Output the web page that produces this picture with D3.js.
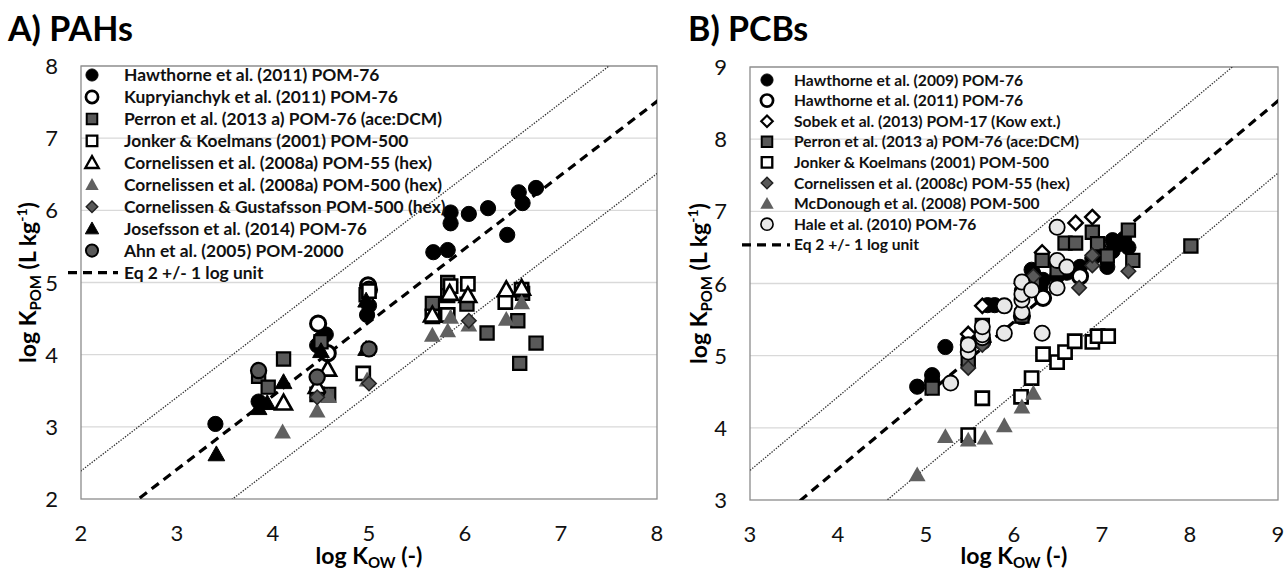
<!DOCTYPE html>
<html>
<head>
<meta charset="utf-8">
<script src="https://cdn.jsdelivr.net/npm/d3@7"></script>
<style>
  body { margin: 0; background: #fff; }
  svg text { font-family: Lato, "Open Sans", sans-serif; }
</style>
</head>
<body>
<svg id="chart" width="1286" height="573"></svg>
<script>
// ---- data: [log Kow, log Kpom] ----
// panel A, PAHs
const hawthorne11A = [[3.40,3.04],[3.85,3.35],[4.46,4.13],[4.50,4.22],[4.55,4.28],[4.98,4.55],[5.00,4.68],[5.67,5.42],[5.82,5.45],[5.85,5.82],[5.85,5.97],[6.04,5.95],[6.24,6.03],[6.44,5.66],[6.56,6.25],[6.60,6.10],[6.74,6.31]];
const kupryA = [[4.47,4.43],[4.57,4.02],[4.99,4.96],[5.00,4.90]];
const perronA = [[3.85,3.70],[3.95,3.55],[4.11,3.94],[4.50,4.18],[4.58,3.45],[4.97,4.83],[5.66,4.71],[5.82,4.82],[5.82,5.00],[6.02,4.70],[6.23,4.30],[6.55,4.47],[6.57,3.88],[6.74,4.16],[6.60,4.85]];
const jonkerA = [[4.46,3.45],[4.94,3.74],[5.00,4.88],[5.66,4.53],[5.82,4.55],[5.85,4.95],[6.03,4.98],[6.42,4.73],[6.59,4.90]];
const corn55A = [[4.11,3.33],[4.46,3.56],[4.57,3.80],[5.66,4.55],[5.84,4.85],[6.03,4.82],[6.43,4.90],[6.59,4.92]];
const corn500A = [[4.10,2.93],[4.46,3.22],[4.58,3.42],[4.98,3.65],[5.66,4.27],[5.82,4.33],[5.85,4.52],[6.04,4.41],[6.43,4.49],[6.59,4.72]];
const cornGusA = [[4.46,3.41],[5.00,3.60],[6.04,4.47]];
const josefA = [[3.41,2.62],[3.85,3.26],[3.94,3.33],[4.11,3.62],[4.50,4.05],[4.97,4.08],[4.97,4.75]];
const ahnA = [[3.85,3.78],[4.46,3.69],[5.00,4.08]];

// panel B, PCBs
const hawthorne09B = [[4.90,4.57],[5.07,4.73],[5.07,4.65],[5.22,5.12],[5.48,5.20],[5.48,5.10],[5.64,5.35],[5.70,5.70],[5.78,5.70],[6.09,5.90],[6.20,6.19],[6.22,6.14],[6.30,5.95],[6.33,6.05],[6.49,6.10],[6.60,6.15],[6.75,6.23],[6.89,6.35],[6.95,6.40],[7.06,6.23],[7.12,6.45],[7.12,6.60],[7.20,6.55],[7.25,6.62],[7.30,6.50]];
const hawthorne11B = [[5.64,5.20],[6.09,5.55],[6.33,5.80],[6.75,6.10]];
const sobekB = [[5.48,5.30],[5.64,5.69],[6.09,6.00],[6.32,6.43],[6.70,6.84],[6.89,6.92]];
const perronB = [[5.07,4.55],[5.48,4.94],[5.64,5.42],[6.09,5.55],[6.22,6.05],[6.32,6.32],[6.49,6.19],[6.58,6.56],[6.70,6.56],[6.89,6.71],[6.95,6.55],[7.06,6.38],[7.30,6.74],[7.35,6.32],[8.01,6.52]];
const jonkerB = [[5.48,3.90],[5.64,4.41],[6.08,4.43],[6.20,4.69],[6.33,5.02],[6.49,4.91],[6.58,5.05],[6.69,5.20],[6.89,5.19],[6.95,5.27],[7.07,5.27]];
const cornB = [[5.48,4.83],[5.64,5.15],[6.22,6.10],[6.74,5.94],[6.89,6.25],[6.89,6.39],[7.30,6.17]];
const mcdB = [[4.90,3.35],[5.22,3.88],[5.48,3.83],[5.67,3.86],[5.89,4.03],[6.09,4.29],[6.22,4.48]];
const haleB = [[5.28,4.62],[5.48,5.05],[5.48,5.15],[5.64,5.25],[5.64,5.29],[5.64,5.40],[5.89,5.31],[5.89,5.69],[6.09,5.60],[6.09,5.77],[6.09,5.85],[6.09,6.02],[6.20,5.91],[6.32,5.31],[6.49,5.94],[6.49,6.32],[6.60,6.23],[6.49,6.78]];

// Eq 2 line: log Kpom = slope * log Kow + intercept, +/- 1 log unit
const eqSlope = 1.02, eqIntercept = -0.65;
const ticksA = [2, 3, 4, 5, 6, 7, 8];
const ticksB = [3, 4, 5, 6, 7, 8, 9];

// marker styles
const S = {
  blackCircle: {shape: "circle", fill: "#000", stroke: "#000", sw: 1},
  openCircle: {shape: "circle", fill: "#fff", stroke: "#000", sw: 3},
  graySquare: {shape: "square", fill: "#595959", stroke: "#000", sw: 2.2},
  openSquare: {shape: "square", fill: "#fff", stroke: "#000", sw: 2.6},
  openTri: {shape: "triangle", fill: "#fff", stroke: "#000", sw: 2.6},
  grayTri: {shape: "triangle", fill: "#606060", stroke: "none", sw: 0},
  grayDiamond: {shape: "diamond", fill: "#595959", stroke: "#222", sw: 1.6},
  blackTri: {shape: "triangle", fill: "#000", stroke: "#000", sw: 1},
  grayCircle: {shape: "circle", fill: "#595959", stroke: "#000", sw: 2.2},
  openDiamond: {shape: "diamond", fill: "#fff", stroke: "#000", sw: 2.4},
  lightCircle: {shape: "circle", fill: "#e8e8e8", stroke: "#000", sw: 1.8}
};

const seriesA = [
  {name: "Hawthorne et al. (2011) POM-76", data: hawthorne11A, st: S.blackCircle},
  {name: "Kupryianchyk et al. (2011) POM-76", data: kupryA, st: S.openCircle},
  {name: "Perron et al. (2013 a) POM-76 (ace:DCM)", data: perronA, st: S.graySquare},
  {name: "Jonker & Koelmans (2001) POM-500", data: jonkerA, st: S.openSquare},
  {name: "Cornelissen et al. (2008a) POM-55 (hex)", data: corn55A, st: S.openTri},
  {name: "Cornelissen et al. (2008a) POM-500 (hex)", data: corn500A, st: S.grayTri},
  {name: "Cornelissen & Gustafsson POM-500 (hex)", data: cornGusA, st: S.grayDiamond},
  {name: "Josefsson et al. (2014) POM-76", data: josefA, st: S.blackTri},
  {name: "Ahn et al. (2005) POM-2000", data: ahnA, st: S.grayCircle}
];
const seriesB = [
  {name: "Hawthorne et al. (2009) POM-76", data: hawthorne09B, st: S.blackCircle},
  {name: "Hawthorne et al. (2011) POM-76", data: hawthorne11B, st: S.openCircle},
  {name: "Sobek et al. (2013) POM-17 (Kow ext.)", data: sobekB, st: S.openDiamond},
  {name: "Perron et al. (2013 a) POM-76 (ace:DCM)", data: perronB, st: S.graySquare},
  {name: "Jonker & Koelmans (2001) POM-500", data: jonkerB, st: S.openSquare},
  {name: "Cornelissen et al. (2008c) POM-55 (hex)", data: cornB, st: S.grayDiamond},
  {name: "McDonough et al. (2008) POM-500", data: mcdB, st: S.grayTri},
  {name: "Hale et al. (2010) POM-76", data: haleB, st: S.lightCircle}
];

const svg = d3.select("#chart");

// path for a marker of half-size h centred on 0,0
function markerPath(shape, h) {
  if (shape === "circle") return d3.symbol(d3.symbolCircle, Math.PI * h * h)();
  if (shape === "square") return `M${-h},${-h}H${h}V${h}H${-h}Z`;
  if (shape === "diamond") return `M0,${-h}L${h},0L0,${h}L${-h},0Z`;
  // triangle
  const t = h * 1.1;
  return `M0,${-t}L${t},${t * 0.78}L${-t},${t * 0.78}Z`;
}
const sizeFor = {circle: 7.6, square: 6.6, diamond: 7.2, triangle: 7.6};

function drawMarker(g, x, y, st, scale) {
  g.append("path")
    .attr("d", markerPath(st.shape, sizeFor[st.shape] * scale))
    .attr("transform", `translate(${x},${y})`)
    .attr("fill", st.fill)
    .attr("stroke", st.stroke)
    .attr("stroke-width", st.sw * (scale < 1 ? 0.9 : 1));
}

function panel(opt) {
  const x = d3.scaleLinear().domain(opt.domain).range([opt.left, opt.right]);
  const y = d3.scaleLinear().domain(opt.domain).range([opt.bottom, opt.top]);
  const g = svg.append("g");

  // grid
  g.selectAll(".grid").data(opt.ticks.slice(1)).enter().append("line")
    .attr("x1", opt.left).attr("x2", opt.right)
    .attr("y1", d => y(d)).attr("y2", d => y(d))
    .attr("stroke", "#d9d9d9").attr("stroke-width", 1.3);

  // frame
  g.append("rect")
    .attr("x", opt.left).attr("y", opt.top)
    .attr("width", opt.right - opt.left).attr("height", opt.bottom - opt.top)
    .attr("fill", "none").attr("stroke", "#8c8c8c").attr("stroke-width", 1.3);

  // tick labels
  g.selectAll(".yt").data(opt.ticks).enter().append("text")
    .attr("x", opt.left - 23).attr("y", d => y(d) + 8)
    .attr("text-anchor", "end").attr("font-size", 22).attr("fill", "#111")
    .text(d => d);
  g.selectAll(".xt").data(opt.ticks).enter().append("text")
    .attr("x", d => x(d)).attr("y", opt.bottom + 42)
    .attr("text-anchor", "middle").attr("font-size", 22).attr("fill", "#111")
    .text(d => d);

  // axis titles
  const xt = g.append("text")
    .attr("x", (opt.left + opt.right) / 2).attr("y", 564)
    .attr("text-anchor", "middle").attr("font-size", 23).attr("font-weight", "bold");
  xt.append("tspan").text("log K");
  xt.append("tspan").attr("font-size", 15).attr("dy", 4).text("OW");
  xt.append("tspan").attr("dy", -4).text(" (-)");

  const yt = g.append("text")
    .attr("transform", `translate(${opt.ytX},${(opt.top + opt.bottom) / 2}) rotate(-90)`)
    .attr("text-anchor", "middle").attr("font-size", 23).attr("font-weight", "bold");
  yt.append("tspan").text("log K");
  yt.append("tspan").attr("font-size", 15).attr("dy", 5).text("POM");
  yt.append("tspan").attr("dy", -5).text(" (L kg");
  yt.append("tspan").attr("font-size", 14).attr("dy", -9).text("-1");
  yt.append("tspan").attr("dy", 9).text(")");

  // panel title
  svg.append("text").attr("x", opt.titleX).attr("y", 41)
    .attr("font-size", 34).attr("font-weight", "bold").text(opt.title);

  // Eq 2 lines, clipped to plot
  const clipId = "clip-" + opt.id;
  svg.append("clipPath").attr("id", clipId).append("rect")
    .attr("x", opt.left).attr("y", opt.top)
    .attr("width", opt.right - opt.left).attr("height", opt.bottom - opt.top);
  const lg = g.append("g").attr("clip-path", `url(#${clipId})`);
  const d0 = opt.domain[0] - 1, d1 = opt.domain[1] + 1;
  [-1, 0, 1].forEach(off => {
    lg.append("line")
      .attr("x1", x(d0)).attr("y1", y(eqSlope * d0 + eqIntercept + off))
      .attr("x2", x(d1)).attr("y2", y(eqSlope * d1 + eqIntercept + off))
      .attr("stroke", off === 0 ? "#000" : "#333")
      .attr("stroke-width", off === 0 ? 3.2 : 1.3)
      .attr("stroke-dasharray", off === 0 ? "9,6" : "1.4,1.4");
  });

  // points
  const pg = g.append("g");
  opt.series.forEach(s => {
    s.data.forEach(p => drawMarker(pg, x(p[0]), y(p[1]), s.st, 1));
  });

  // legend
  const leg = g.append("g");
  opt.series.forEach((s, i) => {
    const ly = opt.legY + i * opt.legStep;
    drawMarker(leg, opt.legMX, ly, s.st, 0.8);
    leg.append("text").attr("x", opt.legTX).attr("y", ly + opt.legFont * 0.36)
      .attr("font-size", opt.legFont).attr("font-weight", "bold").attr("fill", "#111")
      .text(s.name);
  });
  const dy = opt.legY + opt.series.length * opt.legStep;
  leg.append("line").attr("x1", opt.legD0).attr("x2", opt.legD1)
    .attr("y1", dy).attr("y2", dy)
    .attr("stroke", "#000").attr("stroke-width", 3.2).attr("stroke-dasharray", "9,6");
  leg.append("text").attr("x", opt.legTX).attr("y", dy + opt.legFont * 0.36)
    .attr("font-size", opt.legFont).attr("font-weight", "bold").attr("fill", "#111")
    .text("Eq 2 +/- 1 log unit");
}

panel({
  id: "a", title: "A) PAHs", titleX: 8, domain: [2, 8], ticks: ticksA,
  left: 81, right: 657, top: 66, bottom: 499, ytX: 36,
  series: seriesA, legY: 75, legStep: 21.95, legMX: 92, legTX: 124, legD0: 68, legD1: 118, legFont: 17.4
});
panel({
  id: "b", title: "B) PCBs", titleX: 688, domain: [3, 9], ticks: ticksB,
  left: 750, right: 1278, top: 67, bottom: 500, ytX: 707,
  series: seriesB, legY: 80, legStep: 20.6, legMX: 767, legTX: 794, legD0: 742, legD1: 790, legFont: 15.6
});
</script>
</body>
</html>
